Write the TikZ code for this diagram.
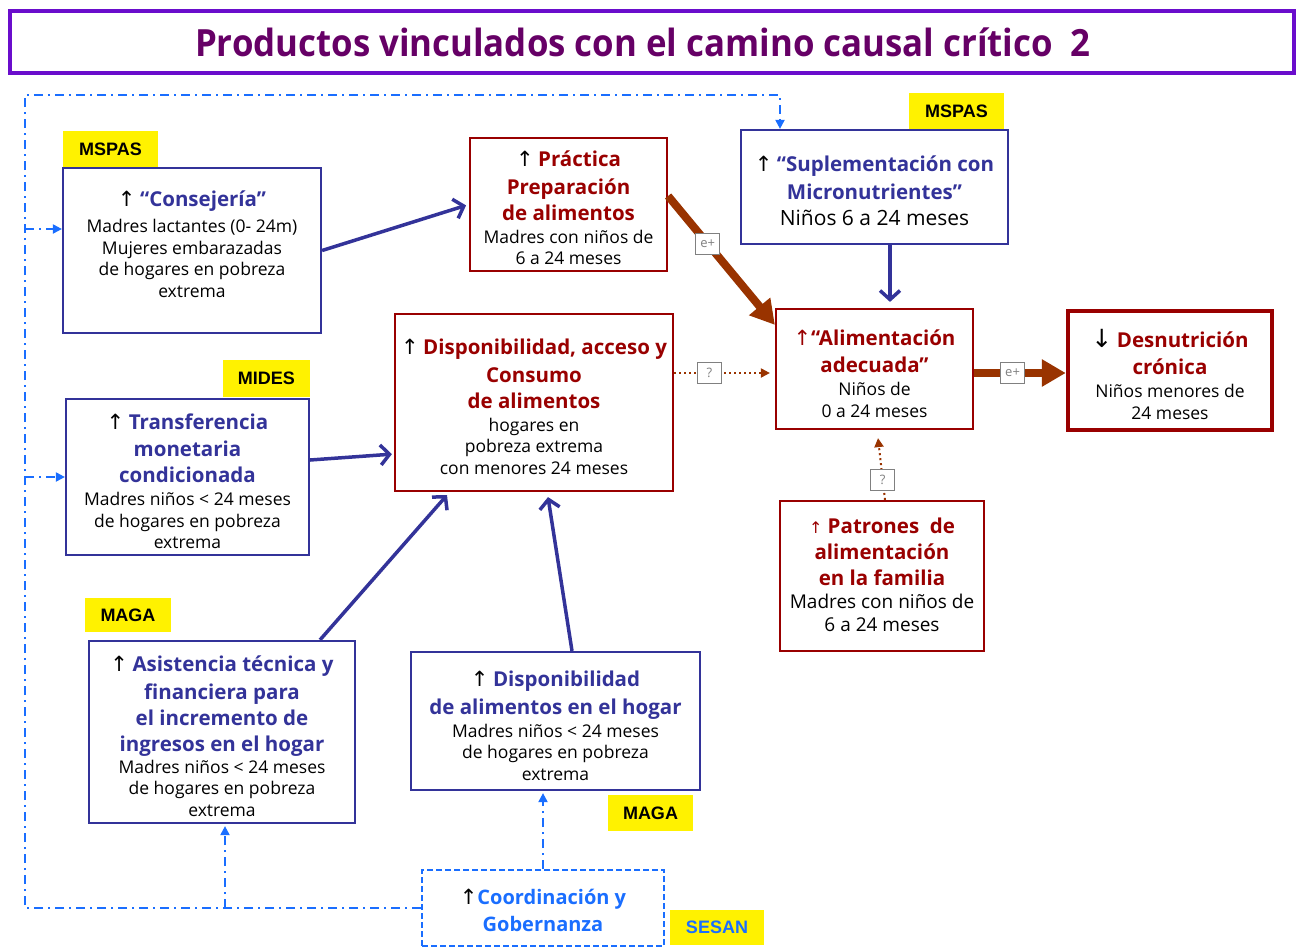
\documentclass[tikz,border=0pt]{standalone}
\usepackage{fontspec}
\setmainfont{Open Sans}
\newfontfamily\arrfont{DejaVu Sans}
\newfontfamily\labfont{Liberation Sans}
\usetikzlibrary{arrows.meta}
\definecolor{tblue}{HTML}{333399}
\definecolor{tred}{HTML}{990000}
\definecolor{brn}{HTML}{993300}
\definecolor{ddblue}{HTML}{1A6EFF}
\definecolor{ttlpurple}{HTML}{660066}
\definecolor{framepurple}{HTML}{6A0DCC}
\newcommand\uparr{{\fontsize{21}{27}\selectfont\arrfont ↑}}
\newcommand\dnarr{{\fontsize{25}{27}\selectfont\arrfont ↓}}
\newcommand\bluet[1]{{\bfseries\fontsize{20.5}{27}\selectfont\color{tblue}#1}}
\newcommand\redt[1]{{\bfseries\fontsize{20.5}{27}\selectfont\color{tred}#1}}
\begin{document}
\begin{tikzpicture}[x=1pt,y=-1pt,
  bluebox/.style={draw=tblue, line width=2.2, minimum width=#1},
  redbox/.style={draw=tred, line width=2.2, minimum width=#1},
  txt/.style={align=center, inner sep=0pt, anchor=north, font=\fontsize{17.5}{21.5}\selectfont},
  ylab/.style={fill=yellow, inner sep=0pt, font=\labfont\bfseries\fontsize{18}{18}\selectfont},
  barrow/.style={draw=tblue, line width=3.5, -{Straight Barb[length=9pt,width=20pt]}},
  brarrow/.style={draw=brn, line width=8, -{Triangle[length=24pt,width=26pt]}},
  dotarrow/.style={draw=brn, line width=2, dash pattern=on 2pt off 3pt, -{Triangle[length=9pt,width=9pt]}},
  ddline/.style={draw=ddblue, line width=2, dash pattern=on 9pt off 5pt on 2pt off 5pt},
  ddarrow/.style={ddline, -{Triangle[length=9pt,width=9pt]}},
  elab/.style={draw=gray, solid, fill=white, text=gray, line width=1.2, minimum width=24, minimum height=21, inner sep=1pt, font=\fontsize{13}{13}\selectfont},
]
\useasboundingbox (0,0) rectangle (1302,948);

% title
\node[draw=framepurple, line width=4, minimum width=1284, minimum height=62, inner sep=0pt] (title) at (651.5,42) {};
\node[text=ttlpurple, font=\bfseries\fontsize{30}{30}\selectfont, inner sep=0pt] (titletxt) at (643,42) {\scalebox{1.16}[1.25]{Productos vinculados con el camino causal crítico\ \ 2}};

% boxes
\node[bluebox=258, minimum height=165] (cons) at (192,250.5) {};
\node[redbox=197, minimum height=133] (prac) at (568.5,204.5) {};
\node[bluebox=267, minimum height=114] (supl) at (874.5,187) {};
\node[redbox=197, minimum height=120] (alim) at (874.5,369) {};
\node[draw=tred, line width=4.5, minimum width=204, minimum height=119] (desn) at (1170,370.5) {};
\node[redbox=278, minimum height=177] (disp) at (534,402.5) {};
\node[bluebox=243, minimum height=156] (trans) at (187.5,477) {};
\node[redbox=204, minimum height=150] (pat) at (882,576) {};
\node[bluebox=266, minimum height=182] (asis) at (222,732) {};
\node[bluebox=289, minimum height=138] (dh) at (555.5,721) {};
\node[draw=ddblue, line width=2, dash pattern=on 6pt off 3pt, minimum width=242, minimum height=76] (coord) at (543,908) {};

% texts
\node[txt] (cons-t) at (192,191) {\uparr\ \bluet{“Consejería”}\\[4.5pt]
  Madres lactantes (0- 24m)\\ Mujeres embarazadas\\ de hogares en pobreza\\ extrema};
\node[txt] (prac-t) at (568.5,151) {\uparr\ \redt{Práctica}\\[6pt] \redt{Preparación}\\[4.5pt]
  \redt{de alimentos}\\[1.5pt] Madres con niños de\\ 6 a 24 meses};
\node[txt] (supl-t) at (874.5,156) {\uparr\ \bluet{“Suplementación con}\\[6pt]
  \bluet{Micronutrientes”}\\[4.5pt] {\fontsize{21}{21}\selectfont Niños 6 a 24 meses}};
\node[txt] (alim-t) at (874.5,330) {{\color{tred}\uparr}\redt{“Alimentación}\\[5.5pt]
  \redt{adecuada”}\\[1.5pt] Niños de\\ 0 a 24 meses};
\node[txt] (desn-t) at (1170,329) {\dnarr\ \redt{Desnutrición}\\[6pt] \redt{crónica}\\[1.5pt]
  Niños menores de\\ 24 meses};
\node[txt] (disp-t) at (534,339) {\uparr\ \redt{Disponibilidad, acceso y}\\[6pt]
  \redt{Consumo}\\[4.5pt] \redt{de alimentos}\\[1.5pt] hogares en\\ pobreza extrema\\ con menores 24 meses};
\node[txt] (trans-t) at (187.5,414) {\uparr\ \bluet{Transferencia}\\[5.5pt] \bluet{monetaria}\\[4.5pt]
  \bluet{condicionada}\\[1.5pt] Madres niños < 24 meses\\ de hogares en pobreza\\ extrema};
\node[txt] (pat-t) at (882,518) {\redt{{\mdseries\fontsize{16}{20}\selectfont\arrfont ↑} Patrones\ \ de}\\[4.5pt]
  \redt{alimentación}\\[4.5pt] \redt{en la familia}\\[1pt]
  {\fontsize{19}{23}\selectfont Madres con niños de}\\[1.5pt] {\fontsize{19}{23}\selectfont 6 a 24 meses}};
\node[txt] (asis-t) at (222,656) {\uparr\ \bluet{Asistencia técnica y}\\[6pt] \bluet{financiera para}\\[4.5pt]
  \bluet{el incremento de}\\[4.5pt] \bluet{ingresos en el hogar}\\[0.5pt]
  Madres niños < 24 meses\\ de hogares en pobreza\\ extrema};
\node[txt] (dh-t) at (555.5,671) {\uparr\ \bluet{Disponibilidad}\\[6pt] \bluet{de alimentos en el hogar}\\[1.5pt]
  Madres niños < 24 meses\\ de hogares en pobreza\\ extrema};
\node[txt] (coord-t) at (543,889) {\uparr{\bfseries\fontsize{20}{27}\selectfont\color{ddblue}Coordinación y}\\[5.5pt]
  {\bfseries\fontsize{20}{27}\selectfont\color{ddblue}Gobernanza}};

% institution labels
\node[ylab, minimum width=95, minimum height=36] (l-mspas1) at (110.5,149) {MSPAS};
\node[ylab, minimum width=95, minimum height=36] (l-mspas2) at (956.5,111) {MSPAS};
\node[ylab, minimum width=87, minimum height=37] (l-mides) at (266.5,378.5) {MIDES};
\node[ylab, minimum width=86, minimum height=34] (l-maga1) at (128,615) {MAGA};
\node[ylab, minimum width=85, minimum height=36] (l-maga2) at (650.5,813) {MAGA};
\node[ylab, minimum width=94, minimum height=35, text=ddblue] (l-sesan) at (717,927.5) {SESAN};

% blue causal arrows
\draw[barrow, shorten >=3] (cons.east) -- (prac.west);
\draw[barrow, shorten >=2] ([yshift=17]trans.east) -- ([yshift=-51.5]disp.west);
\draw[barrow] ([xshift=98]asis.north) -- ([xshift=-87,yshift=-3]disp.south);
\draw[barrow] ([xshift=16.5]dh.north) -- ([xshift=14,yshift=-5]disp.south);
\draw[barrow, shorten >=6] ([xshift=15.5]supl.south) -- ([xshift=15.5]alim.north);

% brown arrows
\draw[brarrow] ([yshift=8.5]prac.east) -- ([yshift=-17]alim.north west)
  node[elab, pos=0.37] (e1) {e+};
\draw[brarrow] ([yshift=-4]alim.east) -- ([yshift=-4]alim.east -| desn.west)
  node[elab, pos=0.42] (e2) {e+};

% dotted arrows
\draw[dotarrow, shorten >=5] ([yshift=29.5]disp.east) -- ([yshift=29.5]disp.east -| alim.west)
  node[elab, pos=0.35] (q1) {?};
\draw[dotarrow] ([xshift=3]pat.north) -- ([xshift=3.5,yshift=-8]alim.south)
  node[elab, pos=0.32] (q2) {?};

% coordination dash-dot lines
\coordinate (cL) at (25,908);
\coordinate (cTL) at (25,95);
\coordinate (cTR) at (780,95);
\coordinate (cA) at (225,908);
\draw[ddarrow] (coord.west) -- (cL) -- (cTL) -- (cTR) -- (cTR |- supl.north);
\draw[ddarrow] (cL |- 0,229) -- (cL |- 0,229 -| cons.west);
\draw[ddarrow] (cL |- trans.west) -- (trans.west);
\draw[ddarrow, shorten >=-1] (cA) -- ([xshift=3,yshift=-3]asis.south);
\draw[ddarrow] (coord.north -| 543,0) -- ([xshift=-12.5,yshift=-2]dh.south);
\end{tikzpicture}
\end{document}
